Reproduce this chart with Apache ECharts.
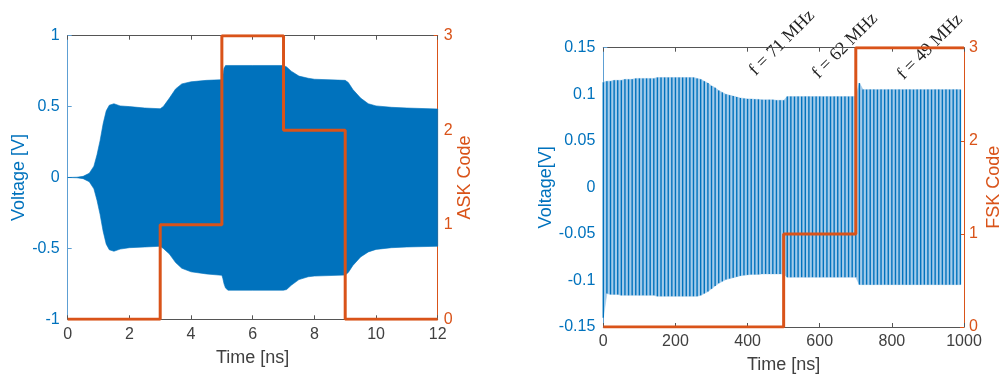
<!DOCTYPE html>
<html>
<head>
<meta charset="utf-8">
<script src="https://cdn.jsdelivr.net/npm/echarts@6/dist/echarts.min.js"></script>
<style>
html,body{margin:0;padding:0;background:#fff;}
#c{width:1004px;height:379px;}
</style>
</head>
<body>
<div id="c"></div>
<script>
// ---------- DATA ----------
// Left panel (ASK)
const askCodeTime = [0, 3, 5, 7, 9, 12];
const askCode = [0, 1, 3, 2, 0, 0];
const askEnvTime  = [0, 0.3, 0.5, 0.7, 0.85, 0.95, 1.05, 1.15, 1.25, 1.35, 1.5, 1.7, 2, 2.5, 3, 3.1, 3.3, 3.5, 3.7, 4, 4.5, 5, 5.03, 5.07, 5.12, 5.2, 6, 7, 7.1, 7.25, 7.5, 7.8, 8, 9, 9.1, 9.25, 9.5, 9.75, 10, 10.5, 11, 12];
const askEnvUpper = [0, 0.002, 0.008, 0.03, 0.08, 0.16, 0.26, 0.38, 0.47, 0.51, 0.52, 0.505, 0.5, 0.49, 0.485, 0.5, 0.56, 0.625, 0.66, 0.675, 0.685, 0.69, 0.72, 0.77, 0.79, 0.79, 0.79, 0.79, 0.78, 0.75, 0.715, 0.7, 0.693, 0.685, 0.67, 0.62, 0.56, 0.52, 0.505, 0.495, 0.49, 0.483];
const askEnvLower = [0, -0.002, -0.008, -0.03, -0.08, -0.16, -0.26, -0.38, -0.47, -0.51, -0.52, -0.505, -0.495, -0.49, -0.485, -0.5, -0.54, -0.6, -0.64, -0.665, -0.68, -0.69, -0.71, -0.75, -0.78, -0.795, -0.795, -0.795, -0.79, -0.76, -0.72, -0.7, -0.695, -0.688, -0.67, -0.62, -0.56, -0.525, -0.507, -0.495, -0.49, -0.485];

// Right panel (FSK)
const fskCodeTime = [0, 500, 700, 1000];
const fskCode = [0, 1, 3, 3];
const fskTime = [0,10,20,30,40,50,60,70,80,90,100,110,120,130,140,150,160,170,180,190,200,210,220,230,240,250,260,270,280,290,300,310,320,330,340,350,360,370,380,390,400,410,420,430,440,450,460,470,480,490,500,510,520,530,540,550,560,570,580,590,600,610,620,630,640,650,660,670,680,690,700,710,720,730,740,750,760,770,780,790,800,810,820,830,840,850,860,870,880,890,900,910,920,930,940,950,960,970,980,990];
const fskUpper = [0.113,0.114,0.114,0.115,0.115,0.115,0.116,0.116,0.116,0.117,0.117,0.117,0.117,0.117,0.117,0.118,0.118,0.118,0.118,0.118,0.118,0.118,0.118,0.118,0.118,0.118,0.117,0.116,0.114,0.112,0.109,0.107,0.104,0.102,0.100,0.099,0.098,0.097,0.096,0.0955,0.095,0.095,0.0945,0.0945,0.094,0.094,0.094,0.094,0.0935,0.0935,0.0935,0.0975,0.0975,0.0975,0.0975,0.0975,0.0975,0.0975,0.0975,0.0975,0.0975,0.0975,0.0975,0.0975,0.0975,0.0975,0.0975,0.0975,0.0975,0.0975,0.0975,0.112,0.105,0.105,0.105,0.105,0.105,0.105,0.105,0.105,0.105,0.105,0.105,0.105,0.105,0.105,0.105,0.105,0.105,0.105,0.105,0.105,0.105,0.105,0.105,0.105,0.105,0.105,0.105,0.105];
const fskLower = [-0.140,-0.114,-0.115,-0.115,-0.115,-0.116,-0.116,-0.116,-0.116,-0.116,-0.116,-0.116,-0.116,-0.116,-0.116,-0.117,-0.117,-0.117,-0.117,-0.117,-0.117,-0.117,-0.117,-0.117,-0.117,-0.117,-0.117,-0.116,-0.114,-0.112,-0.109,-0.106,-0.103,-0.101,-0.099,-0.098,-0.097,-0.096,-0.095,-0.0945,-0.094,-0.0935,-0.0935,-0.0935,-0.093,-0.093,-0.093,-0.093,-0.093,-0.093,-0.093,-0.0965,-0.0965,-0.0965,-0.0965,-0.0965,-0.0965,-0.0965,-0.0965,-0.0965,-0.0965,-0.0965,-0.0965,-0.0965,-0.0965,-0.0965,-0.0965,-0.0965,-0.0965,-0.0965,-0.0965,-0.1045,-0.1045,-0.1045,-0.1045,-0.1045,-0.1045,-0.1045,-0.1045,-0.1045,-0.1045,-0.1045,-0.1045,-0.1045,-0.1045,-0.1045,-0.1045,-0.1045,-0.1045,-0.1045,-0.1045,-0.1045,-0.1045,-0.1045,-0.1045,-0.1045,-0.1045,-0.1045,-0.1045,-0.1045];
const fskAnnotations = ['f = 71 MHz', 'f = 62 MHz', 'f = 49 MHz'];

// ---------- STYLE ----------
const BLUE = '#0072BD';
const ORANGE = '#D95319';
const GRAY = '#404040';
const FONT = '"Liberation Sans", Arial, Helvetica, sans-serif';
const SERIF = '18px "Liberation Serif", "DejaVu Serif", serif';

const chart = echarts.init(document.getElementById('c'), null, {renderer: 'canvas'});

function pairs(xs, ys) { return xs.map((x, i) => [x, ys[i]]); }
function fmt(v) { return String(parseFloat(Number(v).toFixed(3))); }

// Band polygon drawn through the axis scales (api.coord)
function bandSeries(xAxisIndex, yAxisIndex, xs, lo, hi, fill, z) {
  return {
    type: 'custom', xAxisIndex, yAxisIndex, silent: true, z,
    data: xs.map((x, i) => [x, lo[i], hi[i]]),
    encode: {x: 0, y: [1, 2]},
    renderItem: function (params, api) {
      if (params.dataIndex !== 0) return null;
      const pts = [];
      for (let i = 0; i < xs.length; i++) pts.push(api.coord([xs[i], hi[i]]));
      for (let i = xs.length - 1; i >= 0; i--) pts.push(api.coord([xs[i], lo[i]]));
      return {type: 'polygon', shape: {points: pts},
              style: {fill, stroke: fill, lineWidth: 0.6}};
    }
  };
}

function xAxisBottom(gridIndex, min, max, interval, nameGap) {
  return {
    type: 'value', gridIndex, position: 'bottom', min, max, interval,
    name: 'Time [ns]', nameLocation: 'middle', nameGap,
    nameTextStyle: {color: GRAY, fontSize: 18, fontFamily: FONT},
    axisLine: {show: true, onZero: false, lineStyle: {color: '#555', width: 1}},
    axisTick: {show: true, inside: true, length: 4, lineStyle: {color: '#555'}},
    axisLabel: {color: GRAY, fontSize: 16, fontFamily: FONT, margin: 7, formatter: fmt},
    splitLine: {show: false}
  };
}
function xAxisTop(gridIndex, min, max, interval) {
  return {
    type: 'value', gridIndex, position: 'top', min, max, interval,
    axisLine: {show: true, onZero: false, lineStyle: {color: '#555', width: 1}},
    axisTick: {show: true, inside: true, length: 4, lineStyle: {color: '#555'}},
    axisLabel: {show: false}, splitLine: {show: false}
  };
}
function yAxis(gridIndex, pos, min, max, interval, name, color, lineColor, nameGap, margin) {
  return {
    type: 'value', gridIndex, position: pos, min, max, interval,
    name, nameLocation: 'middle', nameGap, nameRotate: 90,
    nameTextStyle: {color, fontSize: 18, fontFamily: FONT},
    axisLine: {show: true, onZero: false, lineStyle: {color: lineColor, width: 1}},
    axisTick: {show: true, inside: true, length: 4, lineStyle: {color: lineColor}},
    axisLabel: {color, fontSize: 16, fontFamily: FONT, margin, formatter: fmt},
    splitLine: {show: false}
  };
}

const option = {
  animation: false,
  backgroundColor: '#fff',
  grid: [
    {left: 67.7, top: 35.7, width: 370, height: 283.6, containLabel: false},
    {left: 603.3, top: 47.7, width: 362.7, height: 283, containLabel: false}
  ],
  xAxis: [
    xAxisBottom(0, 0, 12, 2, 30),
    xAxisTop(0, 0, 12, 2),
    xAxisBottom(1, 0, 1000, 200, 29),
    xAxisTop(1, 0, 1000, 200)
  ],
  yAxis: [
    yAxis(0, 'left', -1, 1, 0.5, 'Voltage [V]', BLUE, '#5d9fd3', 38, 8),
    yAxis(0, 'right', 0, 3, 1, 'ASK Code', ORANGE, ORANGE, 13, 6),
    yAxis(1, 'left', -0.15, 0.15, 0.05, 'Voltage[V]', BLUE, '#5d9fd3', 44, 8),
    yAxis(1, 'right', 0, 3, 1, 'FSK Code', ORANGE, ORANGE, 21, 5)
  ],
  series: [
    // ASK envelope band
    bandSeries(0, 0, askEnvTime, askEnvLower, askEnvUpper, BLUE, 1),
    // ASK code
    {type: 'line', xAxisIndex: 0, yAxisIndex: 1, data: pairs(askCodeTime, askCode), step: 'end',
     showSymbol: false, lineStyle: {width: 3, color: ORANGE}, z: 5, silent: true},

    // FSK light band
    bandSeries(2, 2, fskTime, fskLower, fskUpper, '#a3cbea', 1),
    // FSK oscillation strokes
    {type: 'custom', xAxisIndex: 2, yAxisIndex: 2,
     data: fskTime.map((t, i) => [t, fskLower[i], fskUpper[i]]),
     encode: {x: 0, y: [1, 2]},
     renderItem: function (params, api) {
       const p1 = api.coord([api.value(0), api.value(1)]);
       const p2 = api.coord([api.value(0), api.value(2)]);
       return {type: 'line', shape: {x1: p1[0], y1: p1[1], x2: p2[0], y2: p2[1]},
               style: {stroke: BLUE, lineWidth: 1.4}};
     }, z: 2, silent: true},
    // FSK code
    {type: 'line', xAxisIndex: 2, yAxisIndex: 3, data: pairs(fskCodeTime, fskCode), step: 'end',
     showSymbol: false, lineStyle: {width: 3, color: ORANGE}, z: 5, silent: true}
  ],
  graphic: [
    {type: 'text', x: 782, y: 43, rotation: Math.PI / 4,
     style: {text: fskAnnotations[0], font: SERIF, fill: '#222', align: 'center', verticalAlign: 'middle'}},
    {type: 'text', x: 845, y: 46, rotation: Math.PI / 4,
     style: {text: fskAnnotations[1], font: SERIF, fill: '#222', align: 'center', verticalAlign: 'middle'}},
    {type: 'text', x: 930, y: 47, rotation: Math.PI / 4,
     style: {text: fskAnnotations[2], font: SERIF, fill: '#222', align: 'center', verticalAlign: 'middle'}}
  ]
};
chart.setOption(option);
</script>
</body>
</html>
